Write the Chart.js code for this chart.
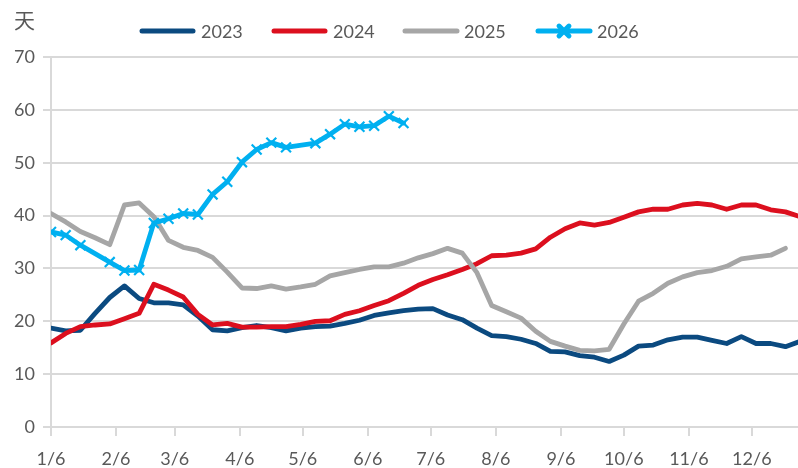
<!DOCTYPE html>
<html>
<head>
<meta charset="utf-8">
<script src="https://cdn.jsdelivr.net/npm/chart.js@4/dist/chart.umd.min.js"></script>
<style>
  html, body { margin: 0; padding: 0; background: #fff; overflow: hidden; }
  #wrap { position: relative; width: 798px; height: 468px; }
</style>
</head>
<body>
<div id="wrap"><canvas id="c"></canvas></div>
<script>
// Weekly observation dates (month/day)
const weeks = ['1/6','1/13','1/20','1/27','2/3','2/10','2/17','2/24','3/3','3/10','3/17','3/24','3/31',
  '4/7','4/14','4/21','4/28','5/5','5/12','5/19','5/26','6/2','6/9','6/16','6/23','6/30',
  '7/7','7/14','7/21','7/28','8/4','8/11','8/18','8/25','9/1','9/8','9/15','9/22','9/29',
  '10/6','10/13','10/20','10/27','11/3','11/10','11/17','11/24','12/1','12/8','12/15','12/22','12/29'];

// Axis tick labels
const tickLabels = ['1/6','2/6','3/6','4/6','5/6','6/6','7/6','8/6','9/6','10/6','11/6','12/6'];
const yTicks = [0, 10, 20, 30, 40, 50, 60, 70];
const unitLabel = '天';

const seriesNames = ['2023', '2024', '2025', '2026'];

// Days, by year
const v2023 = [18.7, 18.2, 18.3, 21.5, 24.5, 26.7, 24.3, 23.5, 23.5, 23.1, 21.0, 18.4, 18.2,
  18.8, 19.2, 18.8, 18.2, 18.7, 19.0, 19.1, 19.6, 20.2, 21.1, 21.6, 22.0, 22.3,
  22.4, 21.2, 20.3, 18.7, 17.3, 17.1, 16.6, 15.8, 14.3, 14.2, 13.5, 13.2, 12.4,
  13.6, 15.3, 15.5, 16.5, 17.0, 17.0, 16.4, 15.8, 17.1, 15.8, 15.8, 15.2, 16.2];

const v2024 = [15.9, 17.7, 19.0, 19.3, 19.5, 20.5, 21.5, 27.0, 25.9, 24.6, 21.3, 19.3, 19.6,
  18.9, 18.9, 19.0, 19.0, 19.4, 20.0, 20.1, 21.3, 22.0, 23.0, 23.9, 25.3, 26.8,
  27.9, 28.8, 29.8, 30.9, 32.4, 32.5, 32.9, 33.7, 35.9, 37.5, 38.6, 38.2, 38.7,
  39.7, 40.7, 41.2, 41.2, 42.0, 42.3, 42.0, 41.2, 42.0, 42.0, 41.1, 40.7, 39.8];

const v2025 = [40.4, 38.8, 37.0, 35.8, 34.5, 42.0, 42.4, 39.8, 35.3, 34.0, 33.4, 32.1, 29.3,
  26.3, 26.2, 26.7, 26.1, 26.5, 27.0, 28.6, 29.2, 29.8, 30.3, 30.3, 31.0, 32.0,
  32.8, 33.8, 32.9, 29.2, 23.0, 21.8, 20.6, 18.1, 16.2, 15.3, 14.5, 14.4, 14.7,
  19.5, 23.8, 25.3, 27.2, 28.4, 29.2, 29.6, 30.4, 31.8, 32.2, 32.5, 33.8];

const v2026 = [36.9, 36.3, 34.4, null, 31.2, 29.6, 29.7, 38.6, 39.4, 40.4, 40.2, 44.0, 46.4,
  50.1, 52.5, 53.8, 52.9, null, 53.7, 55.4, 57.3, 56.8, 57.0, 58.8, 57.5];

const colors = ['#0b4a80', '#dc0f1e', '#a6a6a6', '#00b0f0'];

// Day offset from 6 January
const monthStart = [0, 31, 59, 90, 120, 151, 181, 212, 243, 273, 304, 334];
function dayOffset(md) {
  const [m, d] = md.split('/').map(Number);
  return monthStart[m - 1] + d - 6;
}
const weekX = weeks.map(dayOffset);
const tickX = tickLabels.map(dayOffset);
const labelAt = {};
tickLabels.forEach((t, i) => { labelAt[tickX[i]] = t; });

function toPoints(values) {
  return values.map((v, i) => ({ x: weekX[i], y: v }));
}

const FONT = 'Lato, "Open Sans", sans-serif';
const TEXT = '#595959';
const GRID = '#d9d9d9';

const allSeries = [v2023, v2024, v2025, v2026];
const datasets = allSeries.map((vals, i) => ({
  label: seriesNames[i],
  data: toPoints(vals),
  borderColor: colors[i],
  backgroundColor: colors[i],
  borderWidth: 4.8,
  borderJoinStyle: 'round',
  borderCapStyle: 'round',
  tension: 0,
  spanGaps: true,
  order: 4 - i,
  pointRadius: i === 3 ? 7 : 0,
  pointStyle: 'crossRot',
  pointBorderWidth: 2.2,
  pointBorderColor: colors[i],
  pointHoverRadius: 0
}));

// Series key across the top and the unit label above the value axis
const legendItems = [
  { x1: 142, x2: 193, tx: 201 },
  { x1: 274, x2: 325, tx: 333 },
  { x1: 405, x2: 457, tx: 464 },
  { x1: 538, x2: 590, tx: 597 }
];
const decorations = {
  id: 'decorations',
  afterDraw(chart) {
    const ctx = chart.ctx;
    ctx.save();
    const ly = 31;
    chart.data.datasets.forEach((ds, i) => {
      const it = legendItems[i];
      ctx.strokeStyle = ds.borderColor;
      ctx.lineWidth = 5;
      ctx.lineCap = 'round';
      ctx.beginPath();
      ctx.moveTo(it.x1, ly);
      ctx.lineTo(it.x2, ly);
      ctx.stroke();
      if (ds.pointRadius > 0) {
        Chart.helpers.drawPoint(ctx, {
          pointStyle: 'crossRot', radius: 7, borderWidth: 2.2, rotation: 0
        }, (it.x1 + it.x2) / 2, ly);
      }
      ctx.fillStyle = TEXT;
      ctx.font = '18px ' + FONT;
      ctx.textAlign = 'left';
      ctx.textBaseline = 'middle';
      ctx.fillText(ds.label, it.tx, ly + 1);
    });
    ctx.fillStyle = TEXT;
    ctx.font = '21px "Noto Sans CJK SC", sans-serif';
    ctx.textAlign = 'right';
    ctx.textBaseline = 'middle';
    ctx.fillText(unitLabel, 35, 20);
    ctx.restore();
  }
};

new Chart(document.getElementById('c'), {
  type: 'line',
  data: { datasets },
  options: {
    responsive: true,
    maintainAspectRatio: false,
    animation: false,
    events: [],
    layout: { autoPadding: false, padding: { top: 57, left: 0, right: 0, bottom: 0 } },
    plugins: { legend: { display: false }, tooltip: { enabled: false } },
    scales: {
      x: {
        type: 'linear',
        min: 0,
        max: 356,
        afterFit(scale) {
          scale.height = 41;
          scale.paddingLeft = 0;
          scale.paddingRight = 0;
        },
        afterBuildTicks(scale) { scale.ticks = tickX.map(v => ({ value: v })); },
        ticks: {
          autoSkip: false,
          maxRotation: 0,
          padding: 12,
          color: TEXT,
          font: { family: FONT, size: 18 },
          callback: v => labelAt[v] || ''
        },
        grid: { drawOnChartArea: false, drawTicks: true, tickLength: 9, color: GRID, lineWidth: 2 },
        border: { display: true, color: GRID, width: 2 }
      },
      y: {
        min: 0,
        max: 70,
        afterFit(scale) {
          scale.width = 51;
          scale.paddingTop = 0;
          scale.paddingBottom = 0;
        },
        afterBuildTicks(scale) { scale.ticks = yTicks.map(v => ({ value: v })); },
        ticks: {
          padding: 8,
          color: TEXT,
          font: { family: FONT, size: 18 }
        },
        grid: { color: GRID, lineWidth: 2, drawTicks: true, tickLength: 8 },
        border: { display: true, color: GRID, width: 2 }
      }
    }
  },
  plugins: [decorations]
});
</script>
</body>
</html>
